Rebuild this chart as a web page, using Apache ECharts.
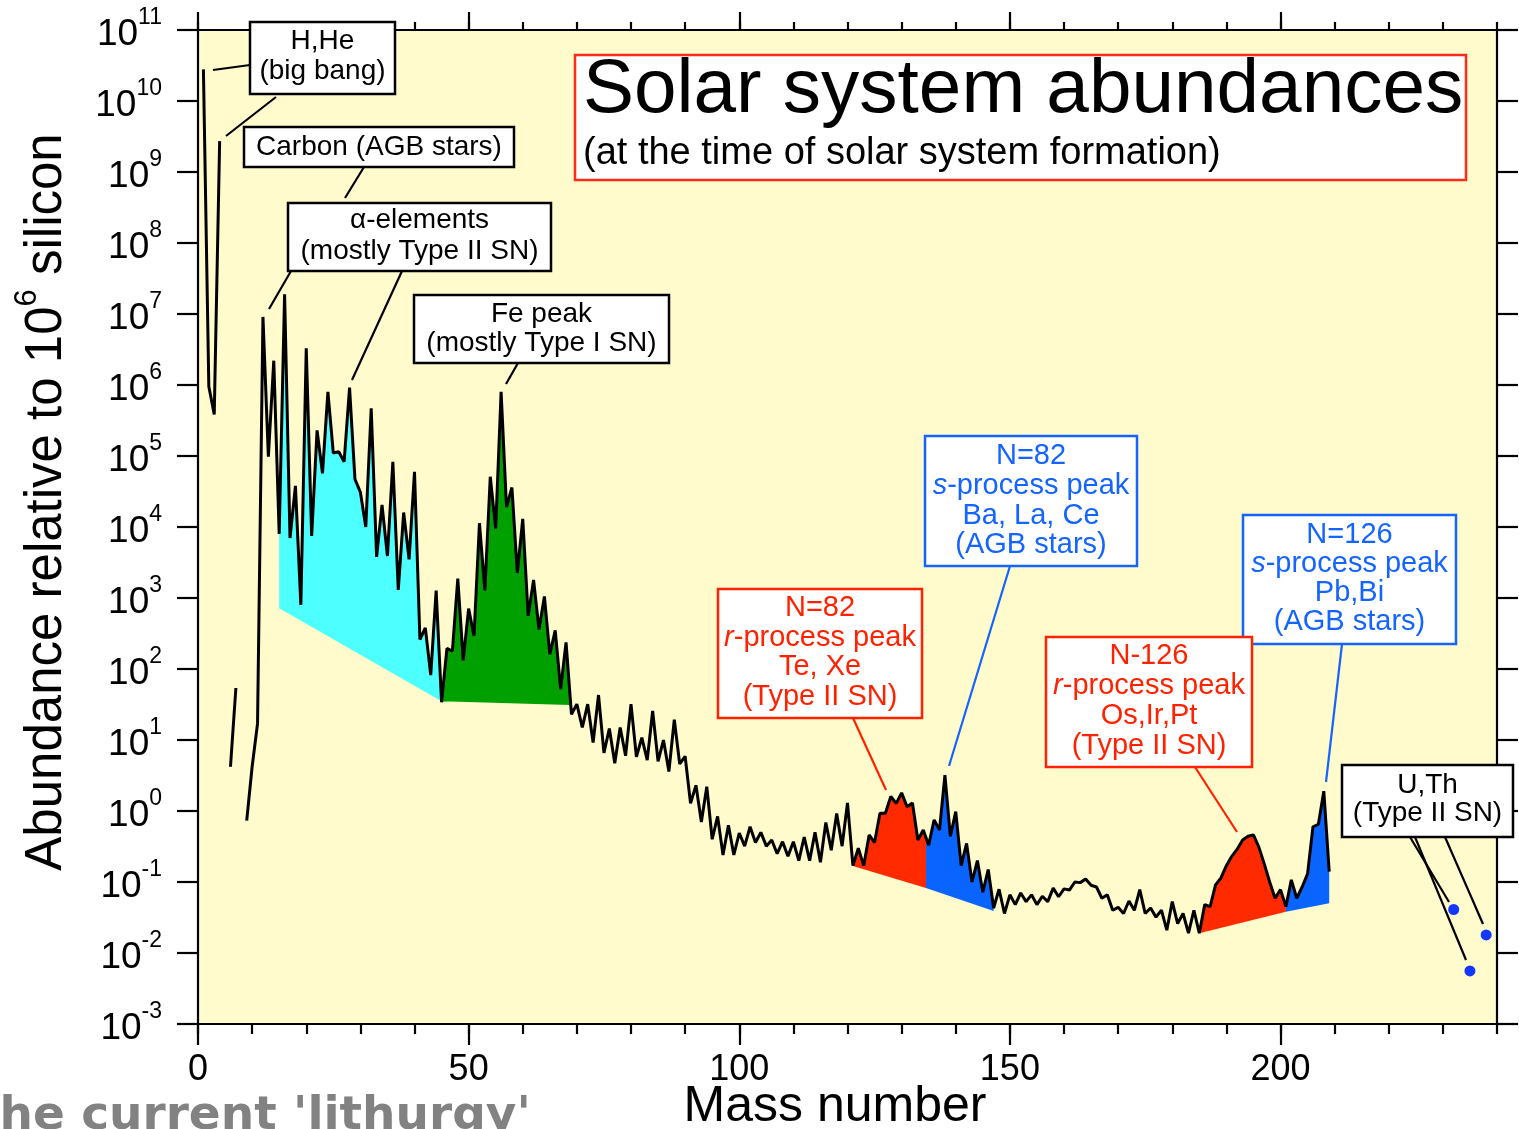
<!DOCTYPE html>
<html>
<head>
<meta charset="utf-8">
<title>Solar system abundances</title>
<script src="https://cdn.jsdelivr.net/npm/echarts@6/dist/echarts.min.js"></script>
<style>
  html, body { margin: 0; padding: 0; background: #fff; }
  #chart { width: 1519px; height: 1129px; }
</style>
</head>
<body>
<div id="chart"></div>
<script>
// abundance per mass number A = 1..209, relative to 1e6 Si (null = no stable nuclide)
const abundance = [
  2.79e10, 9.5e5, 3.86e5, 2.72e9, null, 4.2, 54, null, 0.73, 4.2,      // 1-10
  17, 9.1e6, 9.8e4, 2.2e6, 8e3, 1.9e7, 7e3, 3.8e4, 800, 3.3e6,         // 11-20
  7.5e3, 2.3e5, 5.7e4, 8e5, 1.1e5, 1.15e5, 8.3e4, 9.2e5, 4.7e4, 3.1e4, // 21-30
  1.0e4, 4.7e5, 3.8e3, 2.05e4, 3.9e3, 8.3e4, 1.3e3, 1.6e4, 3.5e3, 6e4, // 31-40
  260, 380, 82, 1270, 34, 195, 178, 1880, 132, 710,                    // 41-50
  292, 1.13e4, 1.28e3, 5.1e4, 9.5e3, 8e5, 1.9e4, 3.6e4, 2.25e3, 1.3e4, // 51-60
  560, 1.8e3, 360, 1.05e3, 161, 350, 52, 237, 23, 32,                  // 61-70
  15, 32, 9.2, 43, 6.6, 14.5, 4.7, 15, 6, 32,                          // 71-80
  5.8, 10.8, 5.2, 25.6, 5.0, 10, 3.6, 19.3, 4.6, 5.9,                  // 81-90
  1.28, 2.3, 0.7, 2.2, 0.4, 0.84, 0.24, 0.63, 0.24, 0.49,              // 91-100
  0.32, 0.6, 0.36, 0.5, 0.32, 0.39, 0.25, 0.37, 0.23, 0.37,            // 101-110
  0.2, 0.43, 0.2, 0.5, 0.19, 0.69, 0.28, 0.92, 0.32, 1.3,              // 111-120
  0.17, 0.3, 0.17, 0.46, 0.36, 0.93, 0.93, 1.6, 1.28, 1.8,             // 121-130
  1.15, 1.3, 0.39, 0.54, 0.33, 0.75, 0.54, 3.2, 0.44, 0.98,            // 131-140
  0.17, 0.35, 0.1, 0.2, 0.072, 0.15, 0.043, 0.079, 0.036, 0.066,       // 141-150
  0.048, 0.07, 0.053, 0.066, 0.048, 0.063, 0.053, 0.082, 0.062, 0.08,  // 151-160
  0.077, 0.1, 0.098, 0.11, 0.09, 0.085, 0.059, 0.066, 0.04, 0.044,     // 161-170
  0.036, 0.054, 0.04, 0.078, 0.036, 0.043, 0.032, 0.04, 0.021, 0.053,  // 171-180
  0.026, 0.036, 0.019, 0.04, 0.019, 0.048, 0.045, 0.091, 0.114, 0.17,  // 181-190
  0.23, 0.29, 0.39, 0.44, 0.46, 0.31, 0.18, 0.1, 0.059, 0.078,         // 191-200
  0.045, 0.107, 0.059, 0.085, 0.13, 0.6, 0.65, 1.9, 0.14               // 201-209
];

// U, Th
const actinideMass = [232, 235, 238];
const actinideAbundance = [0.041, 0.0056, 0.018];

// shaded process regions: mass range and the abundance of the lower edge at each end
const fillFrom = [15, 45, 121, 134.5, 185, 201];
const fillTo = [45, 68.7, 134.5, 147, 201, 209];
const fillBaseFrom = [720, 35, 0.168, 0.082, 0.019, 0.038];
const fillBaseTo = [35, 31, 0.082, 0.039, 0.038, 0.05];

const majorTicks = [0, 50, 100, 150, 200];

const fillColors = ['#4dffff', '#00a000', '#ff2a00', '#0a64ff', '#ff2a00', '#0a64ff'];
const FONT = '"Liberation Sans", Arial, Helvetica, sans-serif';
const RED = '#ff2200';
const BLUE = '#1464ff';
const black = { color: '#000', width: 2.2 };

function curvePoint(api, a) {
  const lo = Math.floor(a), hi = Math.ceil(a);
  const p = api.coord([lo, abundance[lo - 1]]);
  if (lo === hi) return p;
  const q = api.coord([hi, abundance[hi - 1]]);
  const t = a - lo;
  return [p[0] + (q[0] - p[0]) * t, p[1] + (q[1] - p[1]) * t];
}

function renderFill(params, api) {
  const a0 = api.value(0), b0 = api.value(1), a1 = api.value(2), b1 = api.value(3);
  const pts = [curvePoint(api, a0)];
  for (let a = Math.floor(a0) + 1; a < a1; a++) pts.push(api.coord([a, abundance[a - 1]]));
  pts.push(curvePoint(api, a1));
  pts.push(api.coord([a1, b1]));
  pts.push(api.coord([a0, b0]));
  return { type: 'polygon', shape: { points: pts }, style: { fill: fillColors[params.dataIndex] } };
}

// annotation helpers
function box(x, y, w, h, color) {
  return { type: 'rect', z: 100, shape: { x: x, y: y, width: w, height: h },
    style: { fill: '#fff', stroke: color, lineWidth: 2.5 } };
}
function note(cx, cy, text, color, size, lh) {
  const base = { fontSize: size, fontFamily: FONT, fill: color, lineHeight: lh };
  return { type: 'text', z: 101, x: cx, y: cy,
    style: Object.assign({ text: text, align: 'center', verticalAlign: 'middle',
      textAlign: 'center', textVerticalAlign: 'middle',
      rich: { i: Object.assign({ fontStyle: 'italic' }, base) } }, base) };
}
function leader(x1, y1, x2, y2, color) {
  return { type: 'line', z: 100, shape: { x1: x1, y1: y1, x2: x2, y2: y2 },
    style: { stroke: color, lineWidth: 2.2 } };
}

const elements = [
  // H, He
  leader(213, 70, 250, 65, '#000'), leader(276, 97, 226, 136, '#000'),
  box(250, 22, 145, 72, '#000'), note(322.5, 56, 'H,He\n(big bang)', '#000', 28, 30),
  // carbon
  leader(364, 167, 345, 198, '#000'),
  box(244, 127, 270, 40, '#000'), note(379, 147, 'Carbon (AGB stars)', '#000', 28, 30),
  // alpha elements
  leader(291, 271, 269, 309, '#000'), leader(402, 271, 352, 380, '#000'),
  box(288, 203, 263, 68, '#000'), note(419.5, 235.5, '\u03b1-elements\n(mostly Type II SN)', '#000', 28, 31),
  // Fe peak
  leader(518, 363, 506, 384, '#000'),
  box(414, 295, 255, 68, '#000'), note(541.5, 328.5, 'Fe peak\n(mostly Type I SN)', '#000', 28, 29),
  // title
  box(575, 55, 891, 125, '#ff2a1a'),
  { type: 'text', z: 101, x: 583, y: 91, style: { text: 'Solar system abundances', fontSize: 76.5,
    fontFamily: FONT, fill: '#000', align: 'left', verticalAlign: 'middle' } },
  { type: 'text', z: 101, x: 583, y: 154, style: { text: '(at the time of solar system formation)',
    fontSize: 38, fontFamily: FONT, fill: '#000', align: 'left', verticalAlign: 'middle' } },
  // N=82 s-process
  leader(1010, 566, 949, 766, BLUE),
  box(925, 436, 212, 130, BLUE), note(1031, 500.75, 'N=82\n{i|s}-process peak\nBa, La, Ce\n(AGB stars)', BLUE, 29, 29.7),
  // N=82 r-process
  leader(853, 718, 886, 790, RED),
  box(718, 589, 204, 129, RED), note(820, 652.5, 'N=82\n{i|r}-process peak\nTe, Xe\n(Type II SN)', RED, 29, 29.7),
  // N=126 s-process
  leader(1342, 644, 1326, 782, BLUE),
  box(1243, 515, 213, 129, BLUE), note(1349.5, 578.5, 'N=126\n{i|s}-process peak\nPb,Bi\n(AGB stars)', BLUE, 29, 29),
  // N=126 r-process
  leader(1195, 767, 1237, 832, RED),
  box(1046, 637, 206, 130, RED), note(1149, 701, 'N-126\n{i|r}-process peak\nOs,Ir,Pt\n(Type II SN)', RED, 29, 29.7),
  // U, Th
  leader(1410, 837, 1449, 902, '#000'), leader(1415, 837, 1466, 960, '#000'), leader(1445, 837, 1483, 924, '#000'),
  box(1342, 765, 171, 72, '#000'), note(1427.5, 799, 'U,Th\n(Type II SN)', '#000', 28, 28),
  // axis titles
  { type: 'text', z: 101, x: 835, y: 1107, style: { text: 'Mass number', fontSize: 50,
    fontFamily: FONT, fill: '#000', align: 'center', verticalAlign: 'middle' } },
  { type: 'text', z: 101, x: 42, y: 502, rotation: Math.PI / 2, style: {
    text: '{n|Abundance relative to 10}{s|6}{n| silicon}', align: 'center', verticalAlign: 'middle',
    rich: { n: { fontSize: 51, fontFamily: FONT, fill: '#000', padding: [10, 0, 0, 0] },
            s: { fontSize: 31, fontFamily: FONT, fill: '#000', verticalAlign: 'top' } } } },
  // overlapping caption from the slide
  { type: 'text', z: 102, x: -23, y: 1117, style: { text: "the current 'lithurgy'", fontSize: 47,
    fontWeight: 'bold', fontFamily: '"DejaVu Sans", sans-serif', fill: '#828282', align: 'left', verticalAlign: 'middle' } }
];

const yLabel = {
  margin: 36, color: '#000',
  formatter: function (v) { return '{b|10}{e|' + Math.round(Math.log10(v)) + '}'; },
  rich: {
    b: { fontSize: 37, fontFamily: FONT, color: '#000', padding: [10, 0, 0, 0] },
    e: { fontSize: 23, fontFamily: FONT, color: '#000', verticalAlign: 'top' }
  }
};

function xAxisDef(position, major) {
  return {
    type: 'value', position: position, min: 0, max: 240, interval: 10,
    axisLine: { show: !major, onZero: false, lineStyle: black },
    axisTick: major ? { show: true, inside: false, length: position === 'top' ? 18 : 21, lineStyle: black, customValues: majorTicks }
                    : { show: true, inside: false, length: position === 'top' ? 8 : 10, lineStyle: black },
    axisLabel: (major && position === 'bottom')
      ? { show: true, customValues: majorTicks, margin: 28, fontSize: 36, fontFamily: FONT, color: '#000' }
      : { show: false },
    splitLine: { show: false }
  };
}
function yAxisDef(position) {
  return {
    type: 'log', logBase: 10, position: position, min: 1e-3, max: 1e11, interval: 1,
    axisLine: { show: true, onZero: false, lineStyle: black },
    axisTick: { show: true, inside: false, length: 21, lineStyle: black },
    axisLabel: position === 'left' ? yLabel : { show: false },
    splitLine: { show: false },
    minorTick: { show: false }
  };
}

const chart = echarts.init(document.getElementById('chart'));
chart.setOption({
  animation: false,
  backgroundColor: '#fff',
  grid: { left: 198, right: 22, top: 30, bottom: 105, containLabel: false, outerBoundsMode: 'none',
    show: true, backgroundColor: '#fffbcc', borderWidth: 0 },
  xAxis: [xAxisDef('bottom', false), xAxisDef('bottom', true), xAxisDef('top', false), xAxisDef('top', true)],
  yAxis: [yAxisDef('left'), yAxisDef('right')],
  series: [
    {
      type: 'custom', xAxisIndex: 0, yAxisIndex: 0, silent: true, z: 1,
      data: fillFrom.map(function (a, i) { return [a, fillBaseFrom[i], fillTo[i], fillBaseTo[i]]; }),
      encode: { x: [0, 2], y: [1, 3] },
      renderItem: renderFill
    },
    {
      type: 'line', xAxisIndex: 0, yAxisIndex: 0, z: 3, silent: true,
      data: abundance.map(function (v, i) { return [i + 1, v]; }),
      symbol: 'none', connectNulls: false,
      lineStyle: { color: '#000', width: 3 }
    },
    {
      type: 'scatter', xAxisIndex: 0, yAxisIndex: 0, z: 4,
      data: actinideMass.map(function (a, i) { return [a, actinideAbundance[i]]; }),
      symbolSize: 11, itemStyle: { color: '#1238ff', opacity: 1 }
    }
  ],
  graphic: { elements: elements }
});
</script>
</body>
</html>
